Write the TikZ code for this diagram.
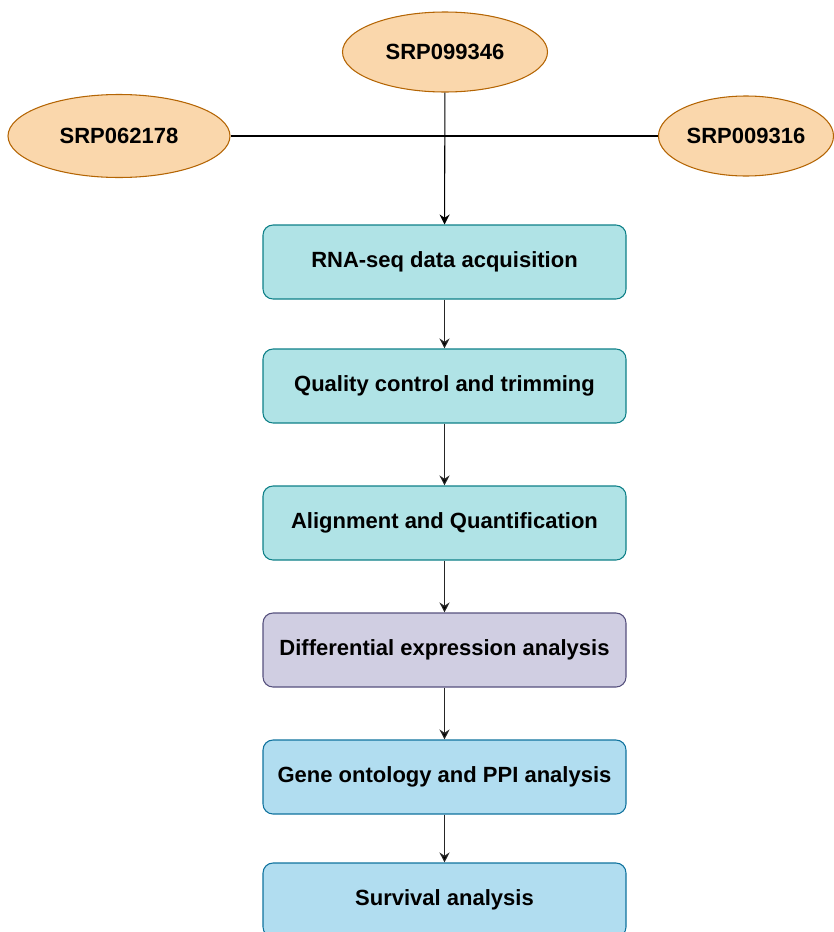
\documentclass[tikz,border=0pt]{standalone}
\usepackage{fontspec}
\setmainfont{Liberation Sans}
\usetikzlibrary{arrows.meta,shapes.geometric,positioning}

\definecolor{srpfill}{HTML}{FAD7AC}
\definecolor{srpline}{HTML}{B46504}
\definecolor{tealfill}{HTML}{B0E3E6}
\definecolor{tealline}{HTML}{0E8088}
\definecolor{purpfill}{HTML}{D0CEE2}
\definecolor{purpline}{HTML}{56517E}
\definecolor{bluefill}{HTML}{B1DDF0}
\definecolor{blueline}{HTML}{10739E}

\begin{document}
\begin{tikzpicture}[x=0.75pt,y=-0.75pt,>={Stealth[length=7.5pt,width=7.5pt,inset=2.5pt]},
                    node distance=95.25pt,line width=0.8pt]
  \tikzstyle{every node}=[font=\fontsize{16.5}{19}\selectfont\bfseries]
  \tikzstyle{srp}=[ellipse,draw=srpline,fill=srpfill,inner sep=0pt]
  \tikzstyle{stage}=[rectangle,rounded corners=7.5pt,minimum width=272.25pt,
                     minimum height=55.5pt,draw=tealline,fill=tealfill]

  \useasboundingbox (0,0) rectangle (833,932);

	\node[srp,minimum width=153.75pt,minimum height=60pt]	(s1) at (445,52)  {SRP099346};
	\node[srp,minimum width=166.5pt,minimum height=62.25pt]	(s2) at (119,136) {SRP062178};
	\node[srp,minimum width=131.25pt,minimum height=60pt]	(s3) at (746,136) {SRP009316};

	\node[stage]	(rna) at (444.5,262)  {RNA-seq data acquisition};
	\node[stage]	(qc)  [below of=rna,node distance=93pt]  {Quality control and trimming};
	\node[stage]	(aln) [below of=qc,node distance=102.75pt]  {Alignment and Quantification};
	\node[stage,draw=purpline,fill=purpfill]	(deg) [below of=aln]  {Differential expression analysis};
	\node[stage,draw=blueline,fill=bluefill]	(go)  [below of=deg]  {Gene ontology and PPI analysis};
	\node[stage,draw=blueline,fill=bluefill]	(surv) [below of=go,node distance=92.25pt]  {Survival analysis};

	\draw (s2) -- (s3);
	\draw[->] (s1) -- (rna);

	\path[->,draw=black!85]
		(rna) edge (qc)
		(qc)  edge (aln)
		(aln) edge (deg)
		(deg) edge (go)
		(go)  edge (surv);

\end{tikzpicture}
\end{document}
